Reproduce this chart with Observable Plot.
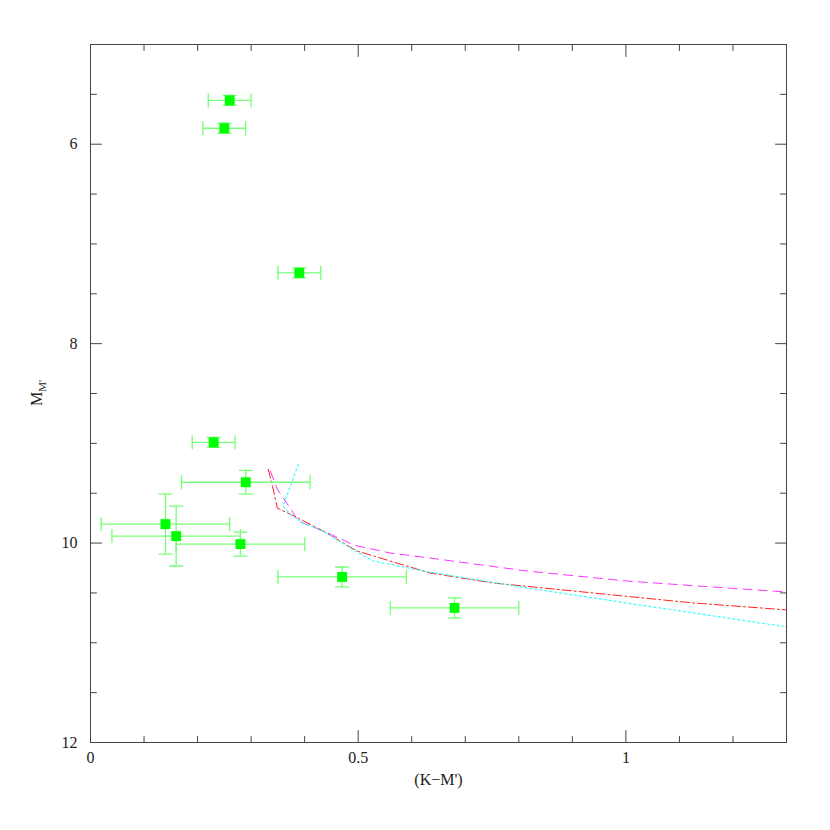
<!DOCTYPE html>
<html>
<head>
<meta charset="utf-8">
<script src="https://cdn.jsdelivr.net/npm/d3@7"></script>
<script src="https://cdn.jsdelivr.net/npm/@observablehq/plot@0.6"></script>
<style>
  html, body { margin: 0; padding: 0; background: #fff; }
  svg text { font-family: "Liberation Serif", "DejaVu Serif", serif !important; }
</style>
</head>
<body>
<div id="chart"></div>
<script>
// Observed points
const ptX    = [0.26, 0.25, 0.39, 0.23, 0.29, 0.14, 0.16, 0.28, 0.47, 0.68];
const ptY    = [5.56, 5.84, 7.29, 8.99, 9.39, 9.81, 9.93, 10.01, 10.34, 10.65];
const ptXErr = [0.04, 0.04, 0.04, 0.04, 0.12, 0.12, 0.12, 0.12, 0.12, 0.12];
const ptYErr = [0.05, 0.05, 0.05, 0.05, 0.12, 0.30, 0.30, 0.12, 0.10, 0.10];

// Model curves
const magentaX = [0.336, 0.349, 0.379, 0.388, 0.435, 0.472, 0.491, 0.56, 0.634, 0.815, 1.0, 1.188, 1.3];
const magentaY = [9.28, 9.46, 9.70, 9.78, 9.88, 9.97, 10.02, 10.10, 10.15, 10.28, 10.38, 10.45, 10.49];
const redX = [0.332, 0.340, 0.349, 0.373, 0.435, 0.466, 0.498, 0.634, 0.752, 0.938, 1.125, 1.3];
const redY = [9.26, 9.43, 9.65, 9.71, 9.88, 9.98, 10.08, 10.30, 10.40, 10.50, 10.60, 10.67];
const cyanX = [0.388, 0.360, 0.373, 0.397, 0.435, 0.485, 0.528, 0.621, 0.815, 1.0, 1.188, 1.3];
const cyanY = [9.21, 9.63, 9.71, 9.80, 9.88, 10.05, 10.18, 10.28, 10.45, 10.60, 10.75, 10.84];

// Ticks
const xMajor = [0, 0.5, 1];
const xMinor = [0.1, 0.2, 0.3, 0.4, 0.6, 0.7, 0.8, 0.9, 1.1, 1.2];
const yMajor = [6, 8, 10, 12];
const yMinor = [5.5, 6.5, 7, 7.5, 8.5, 9, 9.5, 10.5, 11, 11.5];
const xLabels = ["0", "0.5", "1"];
const yLabels = ["6", "8", "10", "12"];

const points = ptX.map((x, i) => ({x, y: ptY[i], xe: ptXErr[i], ye: ptYErr[i]}));
const curve = (xs, ys) => xs.map((x, i) => ({x, y: ys[i]}));

const FONT = "Liberation Serif";
const line = {draw(ctx, l) { ctx.moveTo(0, 0); ctx.lineTo(0, -l); }};
const axisColor = "#444";
const errColor = "#77ff77";

function ticks(data, dim, anchorSide, len) {
  const rot = {bottom: 0, top: 180, left: 90, right: -90}[anchorSide];
  const chan = dim === "x" ? {x: d => d} : {y: d => d};
  return Plot.vector(data, {...chan, frameAnchor: anchorSide, length: len, rotate: rot,
    anchor: "start", shape: line, stroke: axisColor, strokeWidth: 1});
}

const chart = Plot.plot({
  width: 830,
  height: 830,
  marginLeft: 90,
  marginRight: 44,
  marginTop: 44,
  marginBottom: 88,
  style: {fontFamily: FONT, fontSize: "16px", background: "#fff", color: "#222"},
  x: {domain: [0, 1.3]},
  y: {domain: [5, 12], reverse: true},
  marks: [
    Plot.frame({stroke: axisColor}),
    ticks(xMinor, "x", "bottom", 6), ticks(xMajor, "x", "bottom", 12),
    ticks(xMinor, "x", "top", 6), ticks(xMajor, "x", "top", 12),
    ticks(yMinor, "y", "left", 6), ticks(yMajor, "y", "left", 11),
    ticks(yMinor, "y", "right", 6), ticks(yMajor, "y", "right", 11),
    Plot.axisX({anchor: "bottom", ticks: xMajor, tickSize: 0, tickPadding: 9,
      tickFormat: (d, i) => xLabels[i], label: null, fontSize: 16, fontFamily: FONT}),
    Plot.axisY({anchor: "left", ticks: yMajor, tickSize: 0, tickPadding: 13,
      tickFormat: (d, i) => yLabels[i], label: null, fontSize: 16, fontFamily: FONT}),
    Plot.text(["(K\u2212M')"], {frameAnchor: "bottom", dy: 42, fontSize: 16, fontFamily: FONT}),
    // model curves
    Plot.line(curve(magentaX, magentaY), {x: "x", y: "y", stroke: "#ff33ff", strokeWidth: 1, strokeDasharray: "9,6"}),
    Plot.line(curve(redX, redY), {x: "x", y: "y", stroke: "#ff2222", strokeWidth: 1, strokeDasharray: "9,3,2,3"}),
    Plot.line(curve(cyanX, cyanY), {x: "x", y: "y", stroke: "#33ffff", strokeWidth: 1.2, strokeDasharray: "2,3"}),
    // error bars
    Plot.ruleY(points, {y: "y", x1: d => d.x - d.xe, x2: d => d.x + d.xe, stroke: errColor, strokeWidth: 1.3}),
    Plot.ruleX(points, {x: "x", y1: d => d.y - d.ye, y2: d => d.y + d.ye, stroke: errColor, strokeWidth: 1.3}),
    Plot.vector(points, {x: d => d.x - d.xe, y: "y", length: 13, rotate: 0, anchor: "middle", shape: line, stroke: errColor, strokeWidth: 1.3}),
    Plot.vector(points, {x: d => d.x + d.xe, y: "y", length: 13, rotate: 0, anchor: "middle", shape: line, stroke: errColor, strokeWidth: 1.3}),
    Plot.vector(points, {x: "x", y: d => d.y - d.ye, length: 13, rotate: 90, anchor: "middle", shape: line, stroke: errColor, strokeWidth: 1.3}),
    Plot.vector(points, {x: "x", y: d => d.y + d.ye, length: 13, rotate: 90, anchor: "middle", shape: line, stroke: errColor, strokeWidth: 1.3}),
    Plot.dot(points, {x: "x", y: "y", symbol: "square", r: 5.6, fill: "#00ff00", stroke: "none"})
  ]
});

// y-axis label with subscript
const svg = d3.select(chart);
const yl = svg.append("text")
  .attr("transform", "translate(42,393) rotate(-90)")
  .attr("text-anchor", "middle")
  .attr("font-family", FONT)
  .attr("font-size", 16)
  .attr("fill", "#222");
yl.append("tspan").text("M");
yl.append("tspan").attr("font-size", 11).attr("dy", 4).text("M'");

document.getElementById("chart").appendChild(chart);
</script>
</body>
</html>
